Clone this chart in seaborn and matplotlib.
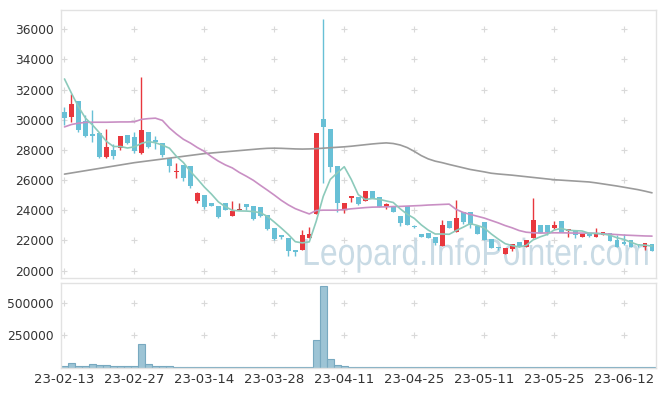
import matplotlib
matplotlib.use("Agg")
import matplotlib.pyplot as plt
import numpy as np
import pandas as pd
import seaborn as sns
from matplotlib.font_manager import FontProperties
from matplotlib.patches import PathPatch
from matplotlib.textpath import TextPath
from matplotlib.transforms import Affine2D

# daily candles, 23-02-13 .. 23-06-15 (85 trading days)
opens = [30500, 30160, 31220, 29900, 29040, 29100, 27510, 27980, 28110, 28970,
         28840, 27780, 29170, 28640, 28440, 27450, 26520, 26980, 26920, 24600,
         25000, 24470, 24270, 24470, 23610, 24000, 24400, 24270, 24200, 23670,
         22810, 22350, 22150, 21360, 21360, 22150, 23740, 30060, 29370, 26920,
         24070, 24800, 24870, 24600, 25260, 24870, 24200, 24270, 23610, 24270,
         22950, 22420, 22480, 22220, 21620, 23280, 22550, 23870, 23870, 22950,
         23210, 22090, 21560, 21090, 21420, 21890, 21560, 22150, 23010, 23010,
         22810, 23280, 22620, 22680, 22220, 22420, 22220, 22350, 22480, 22020,
         21890, 22020, 21750, 21560, 21750]
highs = [30830, 31690, 31250, 30290, 30630, 29100, 29370, 28370, 28900, 28970,
         29170, 32810, 29170, 28900, 28440, 27450, 27120, 26980, 26920, 25200,
         25000, 24500, 24270, 24470, 24600, 24470, 24400, 24270, 24200, 23670,
         22810, 22350, 22150, 21360, 22680, 22880, 29100, 36700, 29370, 26920,
         24470, 24930, 24870, 25260, 25260, 24870, 24470, 24270, 23610, 24270,
         23010, 22420, 22480, 22220, 23340, 23280, 24670, 23870, 23870, 22950,
         23210, 22090, 21560, 21490, 21750, 21890, 22020, 24800, 23010, 23010,
         23280, 23280, 22750, 22680, 22420, 22420, 22810, 22550, 22480, 22350,
         22420, 22020, 21750, 21820, 21750]
lows = [29640, 29830, 29170, 28840, 28510, 27480, 27480, 27380, 27980, 28370,
        27780, 27710, 28110, 28040, 27510, 26520, 26120, 25930, 25460, 24470,
        24070, 24270, 23480, 24000, 23610, 24000, 24000, 23340, 23540, 22680,
        22020, 22090, 20960, 20960, 21360, 22150, 23740, 25790, 26520, 23870,
        23810, 24540, 24340, 24600, 24800, 24200, 24070, 23870, 22950, 23010,
        22810, 22220, 22150, 21690, 21620, 22810, 22550, 23050, 22810, 22420,
        22020, 21490, 21360, 21090, 21290, 21560, 21560, 22150, 22480, 22350,
        22750, 22550, 22220, 22150, 22220, 22220, 22220, 22350, 21950, 21560,
        21690, 21560, 21560, 21360, 21290]
closes = [30100, 31020, 29300, 28900, 28900, 27510, 28180, 27580, 28900, 28440,
          27910, 29300, 28180, 28510, 27650, 26920, 26590, 26120, 25590, 25130,
          24200, 24270, 23540, 24000, 23940, 24000, 24200, 23410, 23610, 22750,
          22090, 22220, 21290, 21230, 22350, 22420, 29100, 29500, 26850, 24470,
          24470, 24930, 24400, 25260, 24800, 24200, 24400, 23870, 23150, 23010,
          22880, 22220, 22150, 21820, 23010, 22810, 23480, 23210, 23010, 22420,
          22020, 21490, 21490, 21490, 21750, 21560, 22020, 23340, 22480, 22550,
          23010, 22550, 22750, 22350, 22420, 22280, 22480, 22550, 21950, 21560,
          21750, 21560, 21690, 21820, 21290]

ma5 = [32700, 31750, 30850, 30100, 29650, 29130, 28560, 28220, 28220, 28120,
       28200, 28430, 28550, 28470, 28310, 28110, 27570, 27160, 26570, 26070,
       25530, 25070, 24550, 24230, 23990, 23950, 23940, 23910, 23830, 23590,
       23210, 22810, 22390, 21910, 21830, 21900, 23280, 24920, 26040, 26470,
       26880, 26040, 25030, 24710, 24770, 24720, 24610, 24510, 24090, 23730,
       23460, 23030, 22680, 22420, 22420, 22400, 22650, 22870, 23110, 22990,
       22830, 22430, 22090, 21780, 21650, 21560, 21660, 22030, 22230, 22390,
       22680, 22790, 22670, 22640, 22620, 22470, 22460, 22420, 22340, 22170,
       22060, 21870, 21700, 21680, 21620]
ma20 = [29520, 29680, 29770, 29820, 29830, 29830, 29830, 29840, 29850, 29850,
        29860, 30020, 30070, 30100, 29950, 29450, 29050, 28700, 28450, 28150,
        27900, 27550, 27250, 27000, 26800, 26500, 26250, 25980, 25650, 25330,
        25000, 24650, 24350, 24100, 23920, 23750, 23980, 24000, 24000, 24000,
        24040, 24090, 24130, 24170, 24200, 24210, 24220, 24240, 24250, 24270,
        24290, 24310, 24340, 24360, 24380, 24400, 24050, 23850, 23720, 23600,
        23480, 23320, 23160, 22980, 22830, 22650, 22540, 22500, 22480, 22490,
        22500, 22500, 22490, 22480, 22480, 22480, 22460, 22440, 22410, 22380,
        22350, 22330, 22310, 22290, 22280]
ma60 = [26390, 26466, 26542, 26618, 26694, 26770, 26846, 26922, 26998, 27074,
        27150, 27210, 27270, 27330, 27390, 27450, 27510, 27570, 27630, 27690,
        27750, 27790, 27830, 27870, 27910, 27950, 27990, 28030, 28070, 28100,
        28110, 28100, 28080, 28060, 28050, 28060, 28080, 28110, 28140, 28170,
        28200, 28240, 28290, 28340, 28390, 28430, 28460, 28420, 28320, 28150,
        27900, 27620, 27400, 27250, 27150, 27030, 26920, 26810, 26700, 26620,
        26540, 26450, 26400, 26360, 26320, 26270, 26220, 26170, 26120, 26070,
        26020, 25990, 25960, 25930, 25900, 25870, 25810, 25740, 25670, 25600,
        25520, 25440, 25360, 25260, 25150]

volume = [15000, 39000, 15000, 15000, 31000, 16000, 23000, 10000, 15000, 15000,
          10000, 180000, 31000, 8000, 15000, 9000, 2000, 1500, 1500, 1000,
          1000, 1500, 1000, 1000, 1500, 1000, 1000, 1500, 1000, 1000,
          1500, 2000, 5000, 1500, 5000, 2000, 218000, 635000, 65000, 23000,
          8000, 7000, 6000, 6000, 1500, 1000, 1000, 1000, 1500, 1000,
          1000, 1000, 1000, 1500, 1500, 1000, 1500, 1000, 1000, 1000,
          1000, 1000, 1000, 1000, 1000, 1000, 1500, 5000, 1500, 4000,
          1500, 1000, 1000, 1000, 1000, 1000, 1000, 1000, 1000, 4000,
          1000, 1000, 1000, 1000, 1000]

date_labels = ["23-02-13", "23-02-27", "23-03-14", "23-03-28", "23-04-11",
               "23-04-25", "23-05-11", "23-05-25", "23-06-12"]
price_ticks = [20000, 22000, 24000, 26000, 28000, 30000, 32000, 34000, 36000]
volume_ticks = [250000, 500000]

UP = "#e8373d"
DOWN = "#68c0d6"
FLAT = "#b4524e"
GRID = "#d9d9d9"
SPINE = "#e2e2e2"


def build_frame():
    df = pd.DataFrame({"open": opens, "high": highs, "low": lows, "close": closes,
                       "ma5": ma5, "ma20": ma20, "ma60": ma60, "volume": volume})
    df["idx"] = np.arange(len(df))
    df["color"] = np.where(df["close"] > df["open"], UP,
                           np.where(df["close"] < df["open"], DOWN, FLAT))
    df["body_lo"] = df[["open", "close"]].min(axis=1)
    df["body_h"] = (df["close"] - df["open"]).abs().clip(lower=90)
    return df


def style_axis(ax):
    for s in ax.spines.values():
        s.set_color(SPINE)
        s.set_linewidth(1)
    ax.tick_params(length=0, colors="#333333")
    ax.set_xlabel("")
    ax.set_ylabel("")


def add_watermark(ax, text, right, baseline, width, em):
    # narrow-looking watermark: squeeze a regular sans path to the wanted width
    path = TextPath((0, 0), text, size=1, prop=FontProperties(family="Liberation Sans"))
    ext = path.get_extents()
    sx = width / ext.width
    tr = Affine2D().translate(-ext.x0, 0).scale(sx, em).translate(right - width, baseline)
    patch = PathPatch(path, transform=tr + ax.transAxes, facecolor="#c9dbe5",
                      edgecolor="none", zorder=1.5, clip_on=False)
    ax.add_patch(patch)


def main():
    sns.set_theme(style="white")
    plt.rcParams["font.family"] = ["DejaVu Sans"]
    df = build_frame()
    n = len(df)
    tick_pos = list(range(0, n, 10))[:len(date_labels)]

    W, H = 665, 396
    fig = plt.figure(figsize=(W / 100, H / 100), dpi=100)
    ax = fig.add_axes([61 / W, 1 - 277.5 / H, 594.5 / W, 267.5 / H])
    axv = fig.add_axes([61 / W, 1 - 367.5 / H, 594.5 / W, 84.5 / H])

    # grid crosses
    gx, gy = np.meshgrid(tick_pos, price_ticks)
    ax.scatter(gx.ravel(), gy.ravel(), marker="+", s=22, color=GRID, linewidths=0.8, zorder=1)

    add_watermark(ax, "Leopard.InfoPointer.com", right=0.987, baseline=0.047,
                  width=343 / 594.5, em=37.7 / 267.5)

    ax.vlines(df["idx"], df["low"], df["high"], colors=df["color"], linewidth=1, zorder=3)
    ax.bar(df["idx"], df["body_h"], bottom=df["body_lo"], width=0.7,
           color=df["color"], linewidth=0, zorder=3.1)

    sns.lineplot(data=df, x="idx", y="ma60", ax=ax, color="#9b9b9b", linewidth=1.2, zorder=4)
    sns.lineplot(data=df, x="idx", y="ma20", ax=ax, color="#c98fc4", linewidth=1.2, zorder=4)
    sns.lineplot(data=df, x="idx", y="ma5", ax=ax, color="#8ccabb", linewidth=1.2, zorder=4)

    ax.set_xlim(-0.5, n - 0.5)
    ax.set_ylim(19536, 37271)
    ax.set_yticks(price_ticks)
    ax.set_yticklabels([str(v) for v in price_ticks], fontsize=8.8)
    ax.set_xticks([])
    style_axis(ax)
    ax.tick_params(axis="y", pad=5)

    # volume panel
    vx, vy = np.meshgrid(tick_pos, volume_ticks)
    axv.scatter(vx.ravel(), vy.ravel(), marker="+", s=22, color=GRID, linewidths=0.8, zorder=1)
    sns.barplot(data=df, x="idx", y="volume", ax=axv, color="#9dc4d5", edgecolor="#78a9c0",
                linewidth=0.8, width=1.0, saturation=1, zorder=2)
    axv.set_xlim(-0.5, n - 0.5)
    axv.set_ylim(0, 660000)
    axv.set_yticks(volume_ticks)
    axv.set_yticklabels([str(v) for v in volume_ticks], fontsize=8.8)
    axv.set_xticks(tick_pos)
    axv.set_xticklabels(date_labels, fontsize=9.5)
    style_axis(axv)
    axv.tick_params(axis="y", pad=5)
    axv.tick_params(axis="x", pad=4)

    fig.savefig("out.png", dpi=100)


if __name__ == "__main__":
    main()
